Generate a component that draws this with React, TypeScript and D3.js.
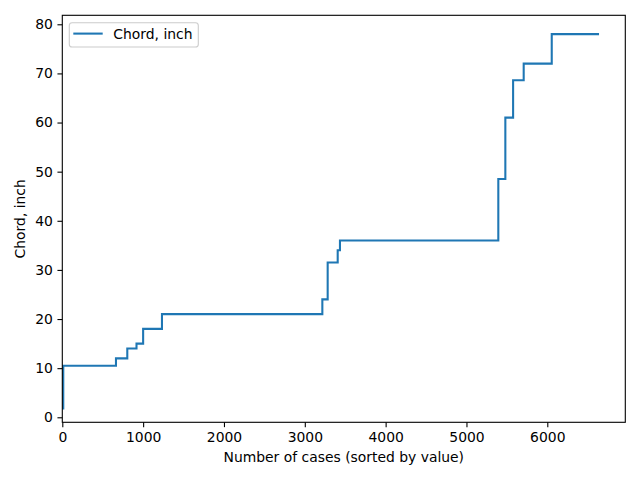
import * as d3 from 'd3';
import * as React from 'react';
import { Component } from 'react';

// step start positions (case index) and the chord value held from there on
const caseStarts = [0, 12, 664, 804, 918, 1000, 1233, 3217, 3283, 3407, 3435, 5394, 5481, 5577, 5708, 6055, 6640];
const chordValues = [1.8, 10.5, 12, 14, 15, 18, 21, 24, 31.5, 34, 36, 48.5, 61, 68.6, 72, 78, 78];

const xTicks = [0, 1000, 2000, 3000, 4000, 5000, 6000];
const yTicks = [0, 10, 20, 30, 40, 50, 60, 70, 80];

const seriesLabel = 'Chord, inch';
const xLabel = 'Number of cases (sorted by value)';
const yLabel = 'Chord, inch';

class StepChart extends Component<{}> {

  private chartElement: any;

  componentDidMount() {
    this.renderChart();
  }

  renderChart() {
    const width = 640,
      height = 480;

    const margin = {
      top: 15.3,
      bottom: 57.7,
      left: 62.3,
      right: 14.7
    };

    const font = 'DejaVu Sans, sans-serif';
    const blue = '#1f77b4';

    d3.select(this.chartElement).selectAll('*').remove();

    let svg = d3.select(this.chartElement)
      .append('svg')
      .attr('width', width)
      .attr('height', height)
      .style('position', 'absolute')
      .style('left', '0px')
      .style('top', '0px')
      .style('background', 'white');

    const x = d3.scaleLinear().domain([0, 6965]).range([margin.left, width - margin.right]);
    const y = d3.scaleLinear().domain([-1.02, 81.83]).range([height - margin.bottom, margin.top]);

    const points: [number, number][] = caseStarts.map((c, i) => [c, chordValues[i]]);

    const line = d3.line<[number, number]>()
      .x(d => x(d[0]))
      .y(d => y(d[1]))
      .curve(d3.curveStepAfter);

    svg.append('path')
      .datum(points)
      .attr('fill', 'none')
      .attr('stroke', blue)
      .attr('stroke-width', 2.08)
      .attr('d', line);

    // axes
    const xAxis = svg.append('g')
      .attr('transform', 'translate(0,' + (height - margin.bottom) + ')')
      .call(d3.axisBottom(x).tickValues(xTicks).tickSize(4.86).tickPadding(4.5).tickFormat(d3.format('d')));

    const yAxis = svg.append('g')
      .attr('transform', 'translate(' + margin.left + ',0)')
      .call(d3.axisLeft(y).tickValues(yTicks).tickSize(4.86).tickPadding(4.5).tickFormat(d3.format('d')));

    [xAxis, yAxis].forEach(g => {
      g.select('.domain').remove();
      g.selectAll('line').attr('stroke', 'black').attr('stroke-width', 1.1);
      g.selectAll('text')
        .attr('fill', 'black')
        .style('font-family', font)
        .style('font-size', '13.9px');
    });

    // frame
    svg.append('rect')
      .attr('x', margin.left)
      .attr('y', margin.top)
      .attr('width', width - margin.left - margin.right)
      .attr('height', height - margin.top - margin.bottom)
      .attr('fill', 'none')
      .attr('stroke', 'black')
      .attr('stroke-width', 1.1);

    // axis labels
    svg.append('text')
      .attr('x', (margin.left + width - margin.right) / 2)
      .attr('y', 462)
      .attr('text-anchor', 'middle')
      .style('font-family', font)
      .style('font-size', '13.9px')
      .text(xLabel);

    svg.append('text')
      .attr('transform', 'translate(25,' + ((margin.top + height - margin.bottom) / 2) + ') rotate(-90)')
      .attr('text-anchor', 'middle')
      .style('font-family', font)
      .style('font-size', '13.9px')
      .text(yLabel);

    // legend
    const legend = svg.append('g');
    legend.append('rect')
      .attr('x', 69.3)
      .attr('y', 22.7)
      .attr('width', 129)
      .attr('height', 24.3)
      .attr('rx', 2.8)
      .attr('fill', 'white')
      .attr('fill-opacity', 0.8)
      .attr('stroke', '#cccccc')
      .attr('stroke-width', 1.1);
    legend.append('line')
      .attr('x1', 73.3)
      .attr('x2', 102.7)
      .attr('y1', 33.6)
      .attr('y2', 33.6)
      .attr('stroke', blue)
      .attr('stroke-width', 2.08);
    legend.append('text')
      .attr('x', 113.3)
      .attr('y', 38.6)
      .style('font-family', font)
      .style('font-size', '13.9px')
      .text(seriesLabel);
  }

  render() {
    return (
      <div>
        <div className="StepChart" ref={el => { this.chartElement = el; }}></div>
      </div>
    )
  }
}

export default function App() {
  return <StepChart />;
}
